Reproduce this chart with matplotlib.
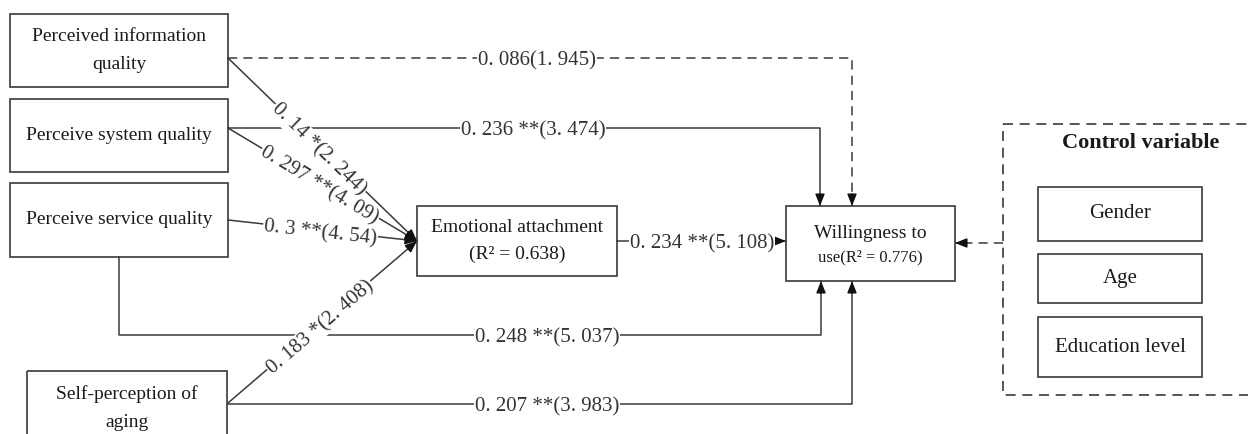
import math
import matplotlib
matplotlib.use("Agg")
import matplotlib.pyplot as plt
from matplotlib.patches import Rectangle

plt.rcParams['font.family'] = ['Liberation Serif', 'DejaVu Serif']

# constructs
sources = ["Perceived information\nquality", "Perceive system quality",
           "Perceive service quality", "Self-perception of\naging"]
mediator = "Emotional attachment\n(R\u00b2 = 0.638)"
outcome_top = "Willingness to"
outcome_bot = "use(R\u00b2 = 0.776)"
controls = ["Gender", "Age", "Education level"]

# path estimates: source -> emotional attachment
coef_m = [0.14, 0.297, 0.3, 0.183]
stars_m = ["*", "**", "**", "*"]
t_m = [2.244, 4.09, 4.54, 2.408]
# source -> willingness (direct)
coef_d = [0.086, 0.236, 0.248, 0.207]
stars_d = ["", "**", "**", "**"]
t_d = [1.945, 3.474, 5.037, 3.983]
# emotional attachment -> willingness
coef_mw, stars_mw, t_mw = 0.234, "**", 5.108


def fmt(c, s, t):
    c = str(c).replace(".", ". ")
    t = str(t).replace(".", ". ")
    if s:
        return "%s %s(%s)" % (c, s, t)
    return "%s(%s)" % (c, t)


fig = plt.figure(figsize=(12.48, 4.34), dpi=100)
ax = fig.add_axes([0, 0, 1, 1])
ax.set_xlim(0, 1248)
ax.set_ylim(434, 0)
ax.axis("off")

LC = "#3a3a3a"
TC = "#1a1a1a"


def box(x, y, w, h, txt, fs=14, ls="-"):
    ax.add_patch(Rectangle((x, y), w, h, fill=False, ec=LC, lw=1.2, ls=ls))
    if txt:
        ax.text(x + w / 2, y + h / 2, txt, ha="center", va="center",
                fontsize=fs, color=TC, linespacing=1.8)


def path(pts, ls="-", arrow=True):
    xs = [p[0] for p in pts]
    ys = [p[1] for p in pts]
    if ls == "--":
        ax.plot(xs, ys, color=LC, lw=1.1, ls=(0, (6, 4)))
    else:
        ax.plot(xs, ys, color=LC, lw=1.1)
    if arrow:
        (x0, y0), (x1, y1) = pts[-2], pts[-1]
        d = math.hypot(x1 - x0, y1 - y0)
        k = 12.0 / d
        ax.annotate("", xy=(x1, y1), xytext=(x1 - (x1 - x0) * k, y1 - (y1 - y0) * k),
                    arrowprops=dict(arrowstyle="-|>,head_length=0.7,head_width=0.28",
                                    color="#111111", lw=1.1, shrinkA=0, shrinkB=0))


def label(x, y, s, rot=0):
    ax.text(x, y, s, ha="center", va="center_baseline", rotation=rot,
            rotation_mode="anchor", fontsize=15, color="#333333",
            bbox=dict(boxstyle="square,pad=0.05", fc="white", ec="none"))


# boxes
src_boxes = [(10, 14, 218, 73), (10, 99, 218, 73), (10, 183, 218, 74), (27, 371, 200, 74)]
for (x, y, w, h), s in zip(src_boxes, sources):
    box(x, y, w, h, s)
box(417, 206, 200, 70, mediator)
ax.add_patch(Rectangle((786, 206), 169, 75, fill=False, ec=LC, lw=1.2))
ax.text(870, 233, outcome_top, ha="center", va="center", fontsize=14, color=TC)
ax.text(870, 257, outcome_bot, ha="center", va="center", fontsize=12, color=TC)

# control variable panel
ax.add_patch(Rectangle((1003, 124), 300, 271, fill=False, ec=LC, lw=1.2, ls=(0, (6, 4))))
ax.text(1141, 143, "Control variable", ha="center", va="center", fontsize=16,
        fontweight="bold", color=TC)
ctrl_boxes = [(1038, 187, 164, 54), (1038, 254, 164, 49), (1038, 317, 164, 60)]
for (x, y, w, h), s in zip(ctrl_boxes, controls):
    box(x, y, w, h, s, fs=15)

# source -> mediator
starts = [(228, 58), (228, 128), (228, 220), (228, 403)]
target = (417, 241)
fracs = [0.49, 0.49, 0.49, 0.48]
for (sx, sy), f, c, s, t in zip(starts, fracs, coef_m, stars_m, t_m):
    path([(sx, sy), target])
    ang = math.degrees(math.atan2(-(target[1] - sy), target[0] - sx))
    label(sx + (target[0] - sx) * f, sy + (target[1] - sy) * f, fmt(c, s, t), ang)

# direct paths
direct = [
    [(228, 58), (852, 58), (852, 206)],
    [(228, 128), (820, 128), (820, 206)],
    [(119, 257), (119, 335), (821, 335), (821, 281)],
    [(228, 404), (852, 404), (852, 281)],
]
label_x = [537, 533, 547, 547]
for pts, lx, c, s, t in zip(direct, label_x, coef_d, stars_d, t_d):
    ls = "-" if s else "--"
    path(pts, ls=ls)
    ly = pts[0][1] if len(pts) == 3 else pts[1][1]
    label(lx, ly, fmt(c, s, t))

# mediator -> outcome
path([(617, 241), (786, 241)])
label(702, 241, fmt(coef_mw, stars_mw, t_mw))

# controls -> outcome
path([(1003, 243), (955, 243)], ls="--")

fig.savefig("out.png", dpi=100)
